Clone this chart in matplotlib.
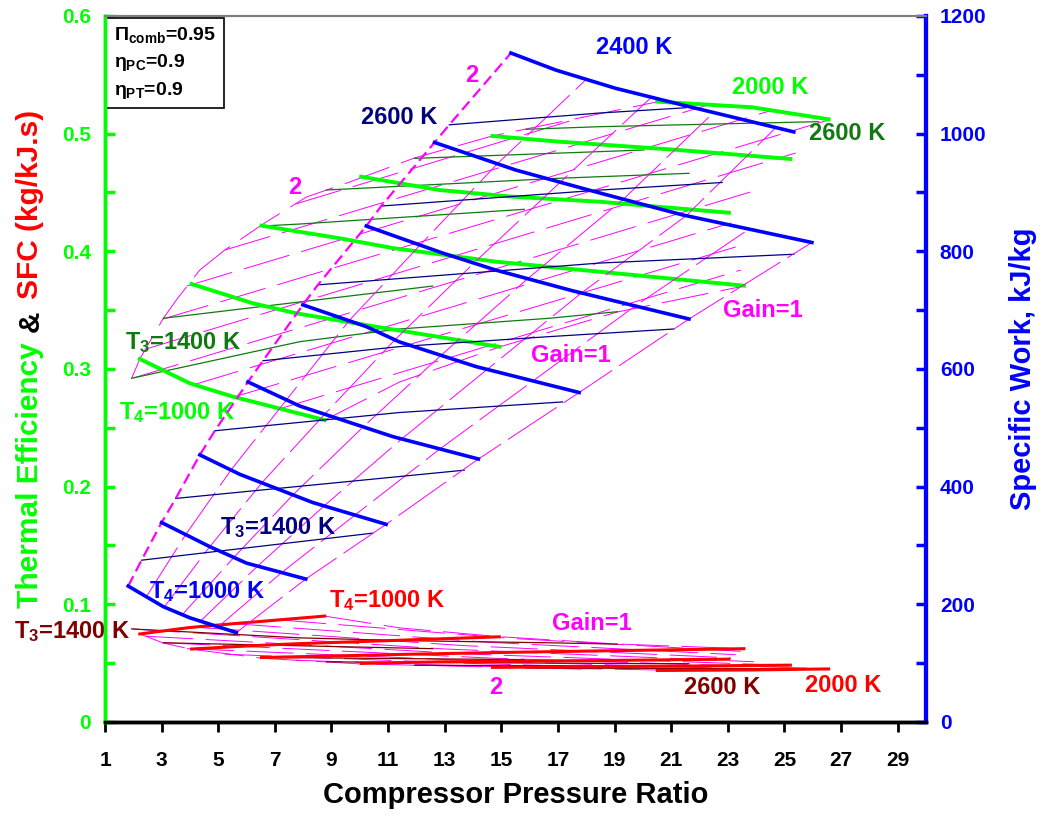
import numpy as np
import matplotlib.pyplot as plt

plt.rcParams['font.family'] = ['Liberation Sans', 'DejaVu Sans']
plt.rcParams['font.weight'] = 'bold'
plt.rcParams['mathtext.fontset'] = 'custom'
plt.rcParams['mathtext.rm'] = 'Liberation Sans:bold'
plt.rcParams['mathtext.bf'] = 'Liberation Sans:bold'
plt.rcParams['mathtext.it'] = 'Liberation Sans:bold'
plt.rcParams['lines.scale_dashes'] = False

GREEN = '#00ff00'
DKGREEN = '#107a10'
BLUE = '#0000ff'
NAVY = '#000080'
RED = '#ff0000'
DKRED = '#800000'
MAG = '#ff00ff'

# ---- thermal efficiency, constant T4 = 1000..2000 K (thick green)
eff_t4_x = [[2.23, 4.00, 5.52, 8.76],
            [4.06, 6.23, 7.76, 10.58, 14.93],
            [6.53, 9.29, 11.15, 14.81, 18.45, 23.57],
            [10.05, 12.81, 15.40, 18.45, 23.04],
            [14.69, 17.04, 21.27, 25.21],
            [20.51, 23.86, 26.56]]
eff_t4_y = [[0.3085, 0.2878, 0.2765, 0.2566],
            [0.3722, 0.3558, 0.3473, 0.3359, 0.3189],
            [0.4218, 0.4111, 0.4028, 0.3912, 0.3827, 0.3708],
            [0.4634, 0.4521, 0.4464, 0.4422, 0.4328],
            [0.4980, 0.4932, 0.4861, 0.4785],
            [0.5272, 0.5224, 0.5122]]

# ---- thermal efficiency, constant T3 = 1400..2600 K (thin dark green)
eff_t3_x = [[1.94, 7.88, 11.40, 16.69, 19.10],
            [3.06, 12.58],
            [6.54, 7.88, 15.81],
            [8.82, 17.04, 21.63],
            [11.93, 18.45, 20.04],
            [15.87, 18.45, 26.21]]
eff_t3_y = [[0.2921, 0.3232, 0.3340, 0.3431, 0.3487],
            [0.3431, 0.3705],
            [0.4215, 0.4232, 0.4357],
            [0.4521, 0.4621, 0.4663],
            [0.4790, 0.4847, 0.4861],
            [0.5037, 0.5059, 0.5102]]

# ---- SFC, constant T4 (thick red)
sfc_t4_x = eff_t4_x
sfc_t4_y = [[0.0748, 0.0803, 0.0835, 0.0900],
            [0.0620, 0.0649, 0.0665, 0.0688, 0.0724],
            [0.0548, 0.0562, 0.0573, 0.0590, 0.0604, 0.0623],
            [0.0498, 0.0511, 0.0517, 0.0522, 0.0534],
            [0.0464, 0.0468, 0.0475, 0.0483],
            [0.0438, 0.0442, 0.0451]]

# ---- SFC, constant T3 (thin dark red)
sfc_t3_x = eff_t3_x
sfc_t3_y = [[0.0791, 0.0715, 0.0692, 0.0673, 0.0662],
            [0.0673, 0.0623],
            [0.0548, 0.0546, 0.0530],
            [0.0511, 0.0500, 0.0495],
            [0.0482, 0.0477, 0.0475],
            [0.0459, 0.0457, 0.0453]]

# ---- specific work, constant T4 = 1000..2400 K (thick blue), kJ/kg
sw_t4_x = [[1.82, 3.06, 4.00, 5.64],
           [3.00, 4.70, 6.00, 8.09],
           [4.35, 5.76, 8.34, 10.93],
           [6.05, 7.88, 11.17, 14.19],
           [7.99, 10.23, 11.40, 14.11, 17.75],
           [10.23, 12.93, 14.81, 17.51, 21.63],
           [12.64, 15.52, 18.10, 21.39, 25.97],
           [15.34, 16.93, 19.04, 21.63, 25.33]]
sw_t4_y = [[231, 196, 177, 152],
           [339, 298, 270, 243],
           [454, 421, 373, 336],
           [578, 537, 485, 447],
           [709, 672, 646, 604, 560],
           [843, 797, 768, 733, 685],
           [985, 938, 904, 862, 815],
           [1137, 1108, 1077, 1046, 1003]]

# ---- specific work, constant T3 = 1400..2600 K (thin navy)
sw_t3_x = [[2.29, 10.46],
           [3.50, 13.69],
           [4.88, 11.40, 17.16],
           [6.58, 11.40, 16.69, 21.10],
           [8.52, 18.45, 25.33],
           [10.76, 18.45, 22.80],
           [13.16, 18.45, 21.51]]
sw_t3_y = [[275, 321],
           [380, 428],
           [495, 526, 544],
           [614, 638, 655, 668],
           [743, 780, 795],
           [877, 904, 917],
           [1015, 1035, 1044]]

# ---- gain lines of the work carpet: pressure ratio where each crosses the T4 lines
sw_gain_x = [[2.46, 3.85, 5.45, 7.41, 9.62, 12.13, 14.86, 18.0],
             [3.09, 4.70, 6.54, 8.76, 11.24, 14.03, 17.08, 20.3],
             [3.73, 5.55, 7.64, 10.12, 12.87, 15.93, 19.31, 22.5],
             [4.37, 6.39, 8.74, 11.48, 14.50, 17.83, 21.53, 24.7],
             [5.00, 7.24, 9.83, 12.83, 16.12, 19.73, 23.75]]

# ---- gain lines of the efficiency carpet (x0, x_mid, x1) and (eff0, eff_mid, eff1)
eff_gain_x = [[7.14, 15.30, 23.46], [5.55, 14.42, 23.28], [4.10, 13.61, 23.11],
              [1.99, 12.96, 23.92], [2.45, 13.93, 25.40], [3.05, 14.81, 26.56],
              [3.89, 14.24, 24.59], [5.23, 13.77, 22.30], [7.73, 12.81, 17.89]]
eff_gain_y = [[0.2660, 0.3251, 0.3841], [0.2762, 0.3400, 0.4037], [0.2864, 0.3553, 0.4241],
              [0.2923, 0.3718, 0.4513], [0.3170, 0.4003, 0.4836], [0.3425, 0.4271, 0.5116],
              [0.3705, 0.4453, 0.5201], [0.4011, 0.4627, 0.5243], [0.4402, 0.4772, 0.5142]]
sfc_gain_y = [[0.0868, 0.0711, 0.0601], [0.0836, 0.0679, 0.0572], [0.0807, 0.0650, 0.0545],
              [0.0790, 0.0621, 0.0512], [0.0729, 0.0577, 0.0478], [0.0674, 0.0541, 0.0452],
              [0.0623, 0.0519, 0.0444], [0.0576, 0.0499, 0.0441], [0.0525, 0.0484, 0.0449]]

# ---- gain boundaries
eff_gain2_x = [1.94, 2.23, 3.06, 3.57, 4.35, 5.23, 6.64, 8.12, 9.64, 11.93, 14.68, 15.88, 20.48]
eff_gain2_y = [0.2921, 0.3085, 0.3431, 0.3603, 0.3841, 0.4011, 0.4241, 0.4462, 0.4589,
               0.4793, 0.4980, 0.5040, 0.5269]
eff_gain1_x = [8.76, 11.40, 14.93, 19.09, 23.57]
eff_gain1_y = [0.2566, 0.2889, 0.3187, 0.3484, 0.3705]
sfc_gain2_x = [2.23, 3.06, 4.00, 6.58, 10.05, 14.69, 20.51]
sfc_gain2_y = [0.0748, 0.0671, 0.0620, 0.0541, 0.0493, 0.0467, 0.0442]
sfc_gain1_y = [0.0900, 0.0800, 0.0725, 0.0663, 0.0623]

fig = plt.figure(figsize=(10.47, 8.24), dpi=100)
ax = fig.add_axes([0.1003, 0.1238, 0.7841, 0.8568])
ax2 = ax.twinx()

shallow = dict(color=MAG, lw=0.7, dashes=(34, 9))
steep = dict(color=MAG, lw=0.7, dashes=(42, 6))

# efficiency + SFC carpets on the left axis
for xs, e, s in zip(eff_gain_x, eff_gain_y, sfc_gain_y):
    ax.plot(xs, e, **shallow)
    ax.plot(xs, s, **shallow)
ax.plot(eff_gain2_x, eff_gain2_y, **shallow)
ax.plot(eff_gain1_x, eff_gain1_y, **shallow)
ax.plot(sfc_gain2_x, sfc_gain2_y, **shallow)
ax.plot(eff_gain1_x, sfc_gain1_y, **shallow)
for xs, ys in zip(eff_t3_x, eff_t3_y):
    ax.plot(xs, ys, color=DKGREEN, lw=0.9)
for xs, ys in zip(sfc_t3_x, sfc_t3_y):
    ax.plot(xs, ys, color=DKRED, lw=0.9)
for xs, ys in zip(eff_t4_x, eff_t4_y):
    ax.plot(xs, ys, color=GREEN, lw=2.8)
for xs, ys in zip(sfc_t4_x, sfc_t4_y):
    ax.plot(xs, ys, color=RED, lw=2.2)

# specific work carpet on the right axis
for gx in sw_gain_x:
    gy = [np.interp(x, sw_t4_x[k], sw_t4_y[k]) for k, x in enumerate(gx)]
    ax2.plot(gx, gy, **steep)
for xs, ys in zip(sw_t3_x, sw_t3_y):
    ax2.plot(xs, ys, color=NAVY, lw=0.9)
# Gain = 2 boundary: starts of T4 and T3 lines in turn
bx, by = [], []
for i in range(len(sw_t4_x)):
    bx.append(sw_t4_x[i][0]); by.append(sw_t4_y[i][0])
    if i < len(sw_t3_x):
        bx.append(sw_t3_x[i][0]); by.append(sw_t3_y[i][0])
ax2.plot(bx, by, color=MAG, lw=1.6, dashes=(8, 4))
# Gain = 1 boundary: ends of the T4 lines
ax2.plot([xs[-1] for xs in sw_t4_x[:7]], [ys[-1] for ys in sw_t4_y[:7]], **steep)
for xs, ys in zip(sw_t4_x, sw_t4_y):
    ax2.plot(xs, ys, color=BLUE, lw=2.6)

ax.set_xlim(1, 30)
ax.set_ylim(0, 0.6)
ax2.set_ylim(0, 1200)
ax.set_xticks(np.arange(1, 30, 2))
ax.set_yticks(np.arange(0, 0.61, 0.1))
ax.set_yticks(np.arange(0, 0.61, 0.05), minor=True)
ax2.set_yticks(np.arange(0, 1201, 200))
ax2.set_yticks(np.arange(0, 1201, 100), minor=True)
ax.set_yticklabels(['0', '0.1', '0.2', '0.3', '0.4', '0.5', '0.6'])

ax.tick_params(axis='x', direction='out', length=7, width=2, labelsize=15, colors='black', pad=14)
ax.tick_params(axis='y', which='both', direction='in', length=7, width=2.5, color=GREEN,
               labelcolor=GREEN, labelsize=15, pad=10)
ax2.tick_params(axis='y', which='both', direction='in', length=7, width=2.5, color=BLUE,
                labelcolor=BLUE, labelsize=15, pad=10)
for t in ax.get_xticklabels() + ax.get_yticklabels() + ax2.get_yticklabels():
    t.set_fontweight('bold')

for a in (ax, ax2):
    a.spines['left'].set_color(GREEN)
    a.spines['left'].set_linewidth(2.5)
    a.spines['right'].set_color(BLUE)
    a.spines['right'].set_linewidth(3)
    a.spines['bottom'].set_color('black')
    a.spines['bottom'].set_linewidth(2.5)
    a.spines['top'].set_color('#808080')
    a.spines['top'].set_linewidth(1.5)

ax.set_xlabel('Compressor Pressure Ratio', fontsize=21, fontweight='bold', labelpad=8)
ax2.set_ylabel('Specific Work, kJ/kg', fontsize=21, fontweight='bold', color=BLUE, labelpad=16)

# multi-colour left label
fig.canvas.draw()
r = fig.canvas.get_renderer()
y = 0.262
for s, c in [('Thermal Efficiency', GREEN), ('&', 'black'), ('SFC (kg/kJ.s)', RED)]:
    t = fig.text(0.029, y, s, color=c, rotation=90, ha='center', va='bottom',
                 fontsize=21.5, fontweight='bold')
    bb = t.get_window_extent(r)
    y += bb.height / fig.bbox.height + 0.013

# info box
ax.text(0.011, 0.987, '$\\Pi_{comb}$=0.95\n$\\eta_{PC}$=0.9\n$\\eta_{PT}$=0.9',
        transform=ax.transAxes, ha='left', va='top', fontsize=14, fontweight='bold',
        linespacing=1.45,
        bbox=dict(boxstyle='square,pad=0.4', fc='white', ec='black', lw=1.2))

lab = dict(fontsize=17, fontweight='bold', ha='center', va='center')
ax2.text(19.7, 1146, '2400 K', color=BLUE, **lab)
ax2.text(11.4, 1028, '2600 K', color=NAVY, **lab)
ax2.text(7.1, 331, 'T$_3$=1400 K', color=NAVY, **lab)
ax2.text(4.6, 221, 'T$_4$=1000 K', color=BLUE, **lab)
ax.text(24.5, 0.5389, '2000 K', color=GREEN, **lab)
ax.text(27.2, 0.5005, '2600 K', color=DKGREEN, **lab)
ax.text(3.75, 0.3221, 'T$_3$=1400 K', color=DKGREEN, **lab)
ax.text(3.55, 0.2626, 'T$_4$=1000 K', color=GREEN, **lab)
ax.text(13.96, 0.5498, '2', color=MAG, **lab)
ax.text(7.70, 0.4546, '2', color=MAG, **lab)
ax.text(24.24, 0.3493, 'Gain=1', color=MAG, **lab)
ax.text(17.47, 0.3111, 'Gain=1', color=MAG, **lab)
ax.text(10.96, 0.1028, 'T$_4$=1000 K', color=RED, **lab)
ax.text(-0.16, 0.0765, 'T$_3$=1400 K', color=DKRED, **lab)
ax.text(18.2, 0.0833, 'Gain=1', color=MAG, **lab)
ax.text(14.82, 0.0289, '2', color=MAG, **lab)
ax.text(22.79, 0.0289, '2600 K', color=DKRED, **lab)
ax.text(27.09, 0.0306, '2000 K', color=RED, **lab)

fig.savefig('out.png', dpi=100)
